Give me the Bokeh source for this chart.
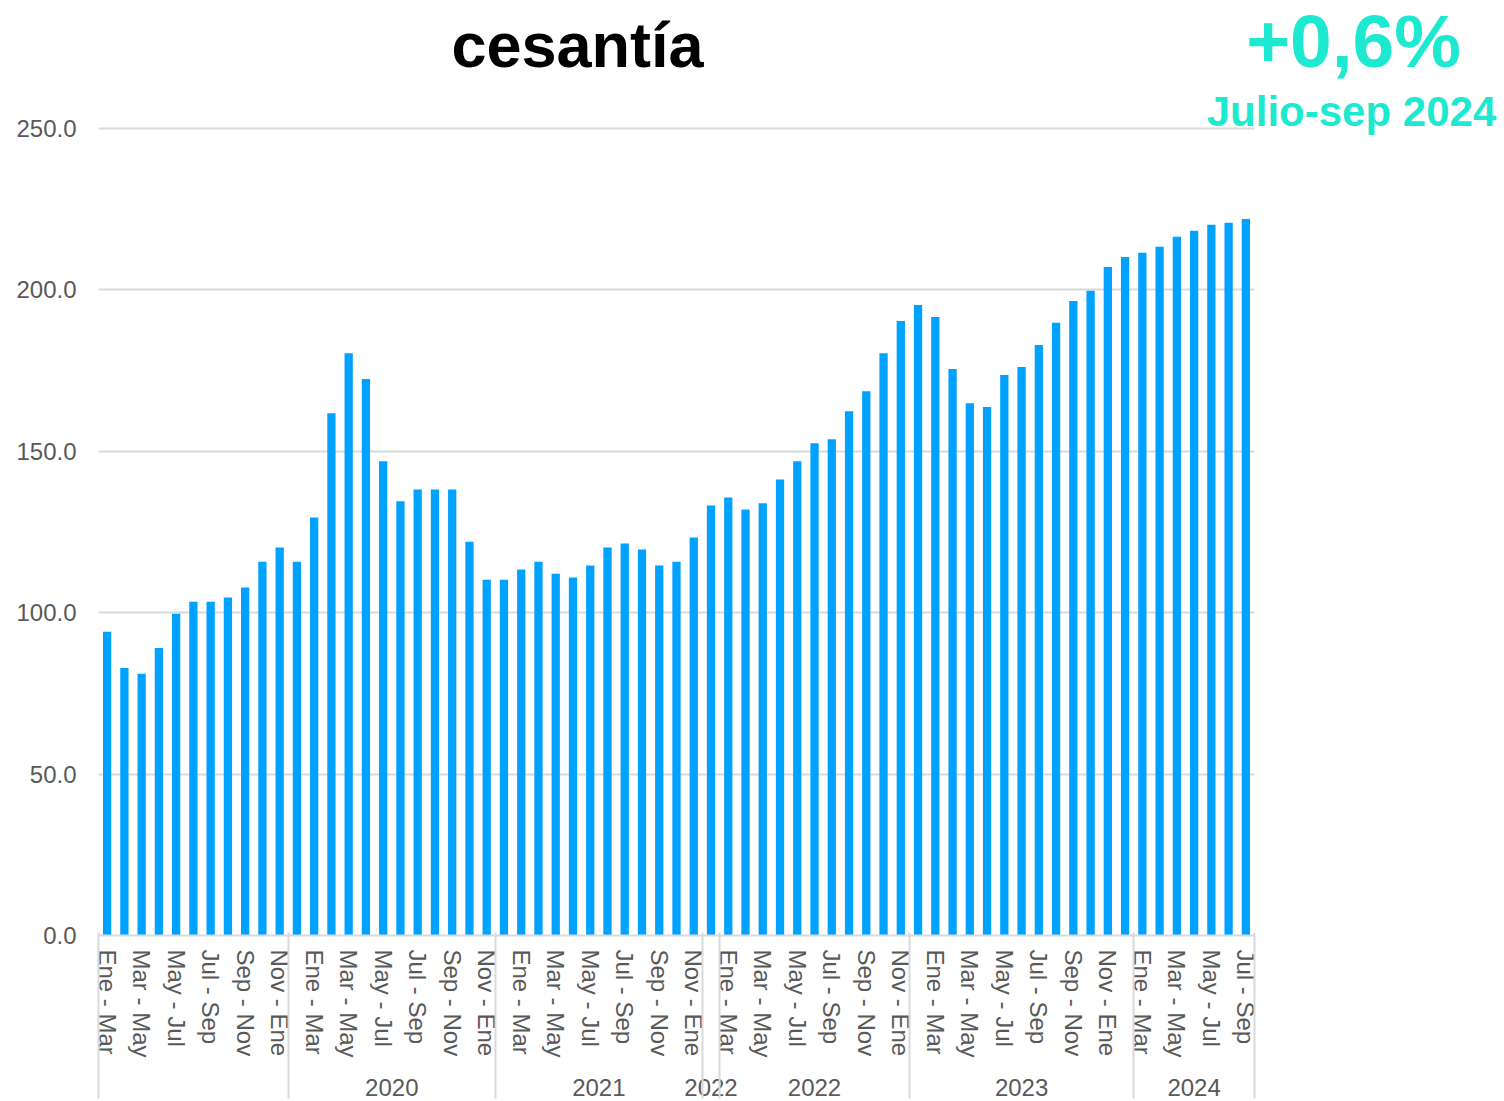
from bokeh.plotting import figure
from bokeh.models import (Range1d, Label, FixedTicker, LinearAxis,
                          NumeralTickFormatter, ColumnDataSource)
from bokeh.embed import file_html
from bokeh.resources import INLINE

# ---------------- data ----------------
group_labels = ["", "2020", "2021", "2022", "2022", "2023", "2024"]

group_periods = [
    ["Ene - Mar", "Feb - Abr", "Mar - May", "Abr - Jun", "May - Jul", "Jun - Ago",
     "Jul - Sep", "Ago - Oct", "Sep - Nov", "Oct - Dic", "Nov - Ene"],
    ["Dic - Feb", "Ene - Mar", "Feb - Abr", "Mar - May", "Abr - Jun", "May - Jul",
     "Jun - Ago", "Jul - Sep", "Ago - Oct", "Sep - Nov", "Oct - Dic", "Nov - Ene"],
    ["Dic - Feb", "Ene - Mar", "Feb - Abr", "Mar - May", "Abr - Jun", "May - Jul",
     "Jun - Ago", "Jul - Sep", "Ago - Oct", "Sep - Nov", "Oct - Dic", "Nov - Ene"],
    ["Dic - Feb"],
    ["Ene - Mar", "Feb - Abr", "Mar - May", "Abr - Jun", "May - Jul", "Jun - Ago",
     "Jul - Sep", "Ago - Oct", "Sep - Nov", "Oct - Dic", "Nov - Ene"],
    ["Dic - Feb", "Ene - Mar", "Feb - Abr", "Mar - May", "Abr - Jun", "May - Jul",
     "Jun - Ago", "Jul - Sep", "Ago - Oct", "Sep - Nov", "Oct - Dic", "Nov - Ene",
     "Dic - Feb"],
    ["Ene - Mar", "Feb - Abr", "Mar - May", "Abr - Jun", "May - Jul", "Jun - Ago",
     "Jul - Sep"],
]

# periods whose label is printed on the axis
shown_periods = ["Ene - Mar", "Mar - May", "May - Jul", "Jul - Sep", "Sep - Nov", "Nov - Ene"]

values = [
    94.1, 82.9, 81.1, 89.1, 99.7, 103.4, 103.4, 104.7, 107.8, 115.8, 120.2,
    115.8, 129.5, 161.8, 180.4, 172.4, 146.9, 134.5, 138.2, 138.2, 138.2, 122.0, 110.2,
    110.2, 113.4, 115.8, 112.1, 110.9, 114.6, 120.2, 121.4, 119.6, 114.6, 115.8, 123.3,
    133.2,
    135.7, 132.0, 133.9, 141.3, 146.9, 152.5, 153.7, 162.4, 168.6, 180.4, 190.4,
    195.3, 191.6, 175.5, 164.9, 163.7, 173.6, 176.1, 182.9, 189.8, 196.6, 199.7, 207.1, 210.2,
    211.5, 213.4, 216.5, 218.3, 220.2, 220.8, 222.0,
]

y_ticks = [0, 50, 100, 150, 200, 250]
title_text = "cesantía"
change_text = "+0,6%"
period_text = "Julio-sep 2024"

# ---------------- axis positions derived from the data ----------------
n = len(values)
xs = list(range(n))
period_ticks, period_over = [], {}
group_ticks, group_over = [], {}
boundaries = [-0.5]
i = 0
for yr, plist in zip(group_labels, group_periods):
    start = i
    for per in plist:
        if per in shown_periods:
            period_ticks.append(i)
            period_over[i] = per
        i += 1
    end = i - 1
    c = (start + end) / 2
    c = int(c) if c == int(c) else c
    group_ticks.append(c)
    group_over[c] = yr
    boundaries.append(end + 0.5)

# ---------------- layout constants ----------------
GRAY_TXT = "#595959"
GRID = "#D9D9D9"
FONT = "Liberation Sans"
TEAL = "#1DE9D0"

W, H = 1504, 1101
LEFT = 98            # frame left (px)
BARS_W = 1156        # px occupied by the bars
AXIS_Y = 935         # px of the zero line
TOP250 = 128         # px of the 250 gridline
bar_px = BARS_W / n
unit_px = (AXIS_Y - TOP250) / y_ticks[-1]

x_end = -0.5 + (W - LEFT) / bar_px
y_end = y_ticks[-1] + TOP250 / unit_px


def px_x(px):
    return (px - LEFT) / bar_px - 0.5


def px_y(py, size=0):
    # compensate the renderer's baseline placement (~0.37 em low)
    return (AXIS_Y - (py - 0.37 * size)) / unit_px


p = figure(
    x_range=Range1d(-0.5, x_end), y_range=Range1d(0, y_end),
    width=W, height=H, output_backend="svg", toolbar_location=None,
    min_border_left=LEFT, min_border_right=0, min_border_top=0,
    min_border_bottom=H - AXIS_Y,
)
p.outline_line_color = None
p.xgrid.grid_line_color = None

src = ColumnDataSource(data=dict(x=xs, top=values))
p.vbar(x="x", top="top", width=0.48, source=src, color="#00A2FF", line_color=None)

# horizontal gridlines only across the bars
yg = p.ygrid[0]
yg.grid_line_color = GRID
yg.grid_line_width = 2
try:
    yg.cross_bounds = (-0.5, n - 0.5)
except AttributeError:
    yg.grid_line_color = None
    p.segment(x0=[-0.5] * len(y_ticks), x1=[n - 0.5] * len(y_ticks),
              y0=y_ticks, y1=y_ticks, line_color=GRID, line_width=2)

# y axis
ya = p.yaxis[0]
ya.ticker = FixedTicker(ticks=y_ticks, minor_ticks=[])
ya.formatter = NumeralTickFormatter(format="0.0")
ya.axis_line_color = None
ya.major_tick_line_color = None
ya.minor_tick_line_color = None
ya.major_tick_out = 0
ya.major_tick_in = 0
ya.major_label_standoff = 22
ya.major_label_text_font = FONT
ya.major_label_text_font_size = "24px"
ya.major_label_text_color = GRAY_TXT

# x axis: period labels
xa = p.xaxis[0]
xa.ticker = FixedTicker(ticks=period_ticks, minor_ticks=[])
xa.major_label_overrides = period_over
xa.bounds = (-0.5, n - 0.5)
xa.major_label_orientation = "vertical"
xa.major_label_text_font = FONT
xa.major_label_text_font_size = "24px"
xa.major_label_text_color = GRAY_TXT
xa.major_label_standoff = 14
xa.major_tick_line_color = None
xa.minor_tick_line_color = None
xa.major_tick_out = 0
xa.major_tick_in = 0
xa.minor_tick_out = 0
xa.minor_tick_in = 0
xa.axis_line_color = GRID
xa.axis_line_width = 2

# x axis: year groups
ga = LinearAxis(ticker=FixedTicker(ticks=group_ticks, minor_ticks=[]),
                major_label_overrides=group_over)
ga.bounds = (-0.5, n - 0.5)
ga.axis_line_color = None
ga.major_tick_line_color = None
ga.minor_tick_line_color = None
ga.major_tick_out = 0
ga.major_tick_in = 0
ga.minor_tick_out = 0
ga.minor_tick_in = 0
ga.major_label_orientation = "horizontal"
ga.major_label_standoff = 18
ga.major_label_text_font = FONT
ga.major_label_text_font_size = "24px"
ga.major_label_text_color = GRAY_TXT
p.add_layout(ga, "below")

# outermost axis: group separators drawn as inward ticks up to the zero line
sa = LinearAxis(ticker=FixedTicker(ticks=[], minor_ticks=boundaries))
sa.bounds = (-0.5, n - 0.5)
sa.axis_line_color = None
sa.major_tick_line_color = None
sa.major_tick_out = 0
sa.major_tick_in = 0
sa.major_label_standoff = 0
sa.minor_tick_out = 0
sa.minor_tick_in = H - AXIS_Y
sa.minor_tick_line_color = GRID
sa.minor_tick_line_width = 2
p.add_layout(sa, "below")

# titles (inside the frame, which reaches the top and right edges)
p.add_layout(Label(x=px_x(577), y=px_y(68, 63), text=title_text,
                   text_font=FONT, text_font_style="bold", text_font_size="63px",
                   text_color="black", text_align="center", text_baseline="alphabetic"))
p.add_layout(Label(x=px_x(1353), y=px_y(68, 75), text=change_text,
                   text_font=FONT, text_font_style="bold", text_font_size="75px",
                   text_color=TEAL, text_align="center", text_baseline="alphabetic"))
p.add_layout(Label(x=px_x(1351), y=px_y(127, 42), text=period_text,
                   text_font=FONT, text_font_style="bold", text_font_size="42px",
                   text_color=TEAL, text_align="center", text_baseline="alphabetic"))

open("out.html", "w").write(file_html(p, INLINE))
